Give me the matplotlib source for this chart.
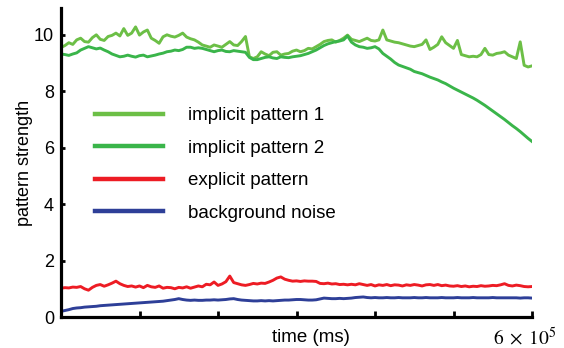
import numpy as np
import matplotlib
matplotlib.use("Agg")
import matplotlib.pyplot as plt

plt.rcParams['font.family'] = ['Liberation Sans', 'DejaVu Sans']
plt.rcParams['mathtext.fontset'] = 'stix'

implicit_pattern_1 = [
    9.55, 9.62, 9.72, 9.66, 9.82, 9.88, 9.76, 9.74, 9.90, 10.00,
    9.84, 9.80, 9.94, 9.98, 10.06, 9.96, 10.22, 9.98, 10.06, 10.28,
    9.99, 10.10, 10.17, 9.88, 9.80, 9.70, 9.93, 10.00, 9.95, 9.92,
    9.98, 10.06, 9.92, 9.86, 9.82, 9.74, 9.64, 9.60, 9.56, 9.64,
    9.60, 9.56, 9.66, 9.76, 9.64, 9.62, 9.76, 9.94, 9.22, 9.16,
    9.22, 9.40, 9.32, 9.26, 9.38, 9.40, 9.28, 9.32, 9.34, 9.42,
    9.46, 9.40, 9.44, 9.52, 9.50, 9.58, 9.66, 9.76, 9.80, 9.82,
    9.74, 9.80, 9.88, 9.99, 9.84, 9.80, 9.76, 9.82, 9.88, 9.80,
    9.78, 9.82, 10.17, 9.82, 9.78, 9.74, 9.72, 9.68, 9.64, 9.60,
    9.58, 9.62, 9.66, 9.82, 9.48, 9.56, 9.66, 9.93, 9.72, 9.62,
    9.52, 9.80, 9.30, 9.26, 9.22, 9.24, 9.22, 9.30, 9.52, 9.30,
    9.28, 9.34, 9.36, 9.40, 9.28, 9.22, 9.16, 9.75, 8.92, 8.86,
    8.90,
]
implicit_pattern_2 = [
    9.32, 9.30, 9.27, 9.32, 9.36, 9.46, 9.52, 9.58, 9.54, 9.50,
    9.53, 9.46, 9.40, 9.32, 9.27, 9.22, 9.24, 9.28, 9.24, 9.21,
    9.26, 9.28, 9.22, 9.25, 9.28, 9.32, 9.35, 9.40, 9.42, 9.46,
    9.44, 9.48, 9.56, 9.56, 9.52, 9.54, 9.52, 9.48, 9.44, 9.40,
    9.44, 9.46, 9.41, 9.40, 9.44, 9.42, 9.40, 9.38, 9.20, 9.12,
    9.12, 9.16, 9.20, 9.22, 9.18, 9.16, 9.22, 9.20, 9.19, 9.22,
    9.24, 9.26, 9.30, 9.34, 9.40, 9.46, 9.54, 9.62, 9.68, 9.72,
    9.76, 9.78, 9.82, 9.96, 9.74, 9.64, 9.58, 9.56, 9.52, 9.54,
    9.58, 9.50, 9.34, 9.24, 9.14, 9.02, 8.93, 8.88, 8.83, 8.78,
    8.70, 8.66, 8.62, 8.56, 8.50, 8.45, 8.40, 8.33, 8.27, 8.19,
    8.11, 8.04, 7.97, 7.90, 7.83, 7.76, 7.68, 7.59, 7.50, 7.40,
    7.30, 7.20, 7.10, 7.00, 6.89, 6.78, 6.68, 6.57, 6.45, 6.33,
    6.22,
]
explicit_pattern = [
    1.02, 1.04, 1.03, 1.06, 1.05, 1.08, 1.00, 0.95, 1.05, 1.12,
    1.15, 1.09, 1.14, 1.20, 1.27, 1.18, 1.12, 1.08, 1.10, 1.06,
    1.10, 1.04, 1.12, 1.07, 1.05, 1.10, 1.02, 1.05, 1.04, 1.00,
    1.05, 1.03, 1.07, 1.02, 1.06, 1.10, 1.07, 1.16, 1.14, 1.24,
    1.12, 1.17, 1.25, 1.45, 1.22, 1.18, 1.14, 1.12, 1.15, 1.19,
    1.17, 1.20, 1.19, 1.24, 1.30, 1.38, 1.42, 1.34, 1.30, 1.27,
    1.28, 1.26, 1.28, 1.27, 1.27, 1.26, 1.19, 1.18, 1.20, 1.17,
    1.18, 1.15, 1.16, 1.14, 1.16, 1.14, 1.18, 1.15, 1.12, 1.15,
    1.10, 1.14, 1.12, 1.15, 1.11, 1.14, 1.13, 1.10, 1.14, 1.12,
    1.15, 1.13, 1.10, 1.14, 1.15, 1.12, 1.15, 1.11, 1.13, 1.10,
    1.09, 1.11, 1.08, 1.10, 1.07, 1.09, 1.08, 1.11, 1.09, 1.10,
    1.12, 1.11, 1.14, 1.18, 1.12, 1.10, 1.13, 1.11, 1.08, 1.07,
    1.08,
]
background_noise = [
    0.20, 0.23, 0.26, 0.30, 0.32, 0.33, 0.35, 0.36, 0.37, 0.38,
    0.40, 0.41, 0.42, 0.43, 0.44, 0.45, 0.46, 0.47, 0.48, 0.49,
    0.50, 0.51, 0.52, 0.53, 0.54, 0.55, 0.56, 0.58, 0.60, 0.62,
    0.65, 0.62, 0.60, 0.59, 0.60, 0.59, 0.59, 0.60, 0.60, 0.61,
    0.60, 0.61, 0.62, 0.64, 0.65, 0.62, 0.60, 0.59, 0.58, 0.57,
    0.57, 0.58, 0.57, 0.58, 0.57, 0.58, 0.59, 0.60, 0.60, 0.61,
    0.62, 0.62, 0.61, 0.60, 0.60, 0.61, 0.64, 0.67, 0.66, 0.65,
    0.65, 0.66, 0.65, 0.66, 0.67, 0.69, 0.70, 0.71, 0.69, 0.68,
    0.69, 0.68, 0.68, 0.69, 0.68, 0.68, 0.69, 0.68, 0.68, 0.68,
    0.69, 0.68, 0.68, 0.69, 0.68, 0.68, 0.68, 0.69, 0.68, 0.68,
    0.68, 0.69, 0.68, 0.68, 0.68, 0.69, 0.68, 0.68, 0.68, 0.68,
    0.69, 0.68, 0.68, 0.68, 0.68, 0.68, 0.68, 0.67, 0.68, 0.68,
    0.67,
]
sample_step_ms = 5000
series_labels = ["implicit pattern 1", "implicit pattern 2",
                 "explicit pattern", "background noise"]
y_ticks = [0, 2, 4, 6, 8, 10]
x_ticks = [0, 100000, 200000, 300000, 400000, 500000, 600000]

colors = ['#6cbf46', '#3ab54a', '#ed1c24', '#2e3f98']

time_ms = np.arange(len(implicit_pattern_1)) * sample_step_ms

W, H = 564, 348
fig = plt.figure(figsize=(W / 100, H / 100), dpi=100)
ax = fig.add_axes([61 / W, 1 - 317 / H, (532 - 61) / W, (317 - 8) / H])

all_series = [implicit_pattern_1, implicit_pattern_2, explicit_pattern, background_noise]
for vals, lab, c in zip(all_series, series_labels, colors):
    ax.plot(time_ms, vals, color=c, lw=2.1, label=lab, solid_joinstyle='round')

ax.set_xlim(0, 600000)
ax.set_ylim(0, 10.95)
ax.set_xticks(x_ticks)
ax.set_xticklabels([])
ax.set_yticks(y_ticks)
ax.set_yticklabels([str(v) for v in y_ticks], fontsize=13)
ax.tick_params(axis='y', direction='in', length=3, width=2, pad=5)
ax.tick_params(axis='x', direction='in', length=4, width=2)
for s in ['top', 'right']:
    ax.spines[s].set_visible(False)
for s in ['left', 'bottom']:
    ax.spines[s].set_linewidth(2.3)
    ax.spines[s].set_color('black')

ax.set_ylabel('pattern strength', fontsize=13, labelpad=1)

leg = ax.legend(loc='upper left', bbox_to_anchor=(95 / W, 1 - 107 / H),
                bbox_transform=fig.transFigure, frameon=False,
                fontsize=13.5, handlelength=3.62, handletextpad=1.33,
                labelspacing=0.82, borderpad=0, borderaxespad=0)
for line in leg.get_lines():
    line.set_linewidth(3.2)

fig.text(311 / W, 1 - 338 / H, 'time (ms)', ha='center', va='center', fontsize=13.5)
fig.text(525 / W, 1 - 338 / H, r'$6\;\times\;10^5$', ha='center', va='center', fontsize=14)

fig.savefig('out.png', dpi=100)
